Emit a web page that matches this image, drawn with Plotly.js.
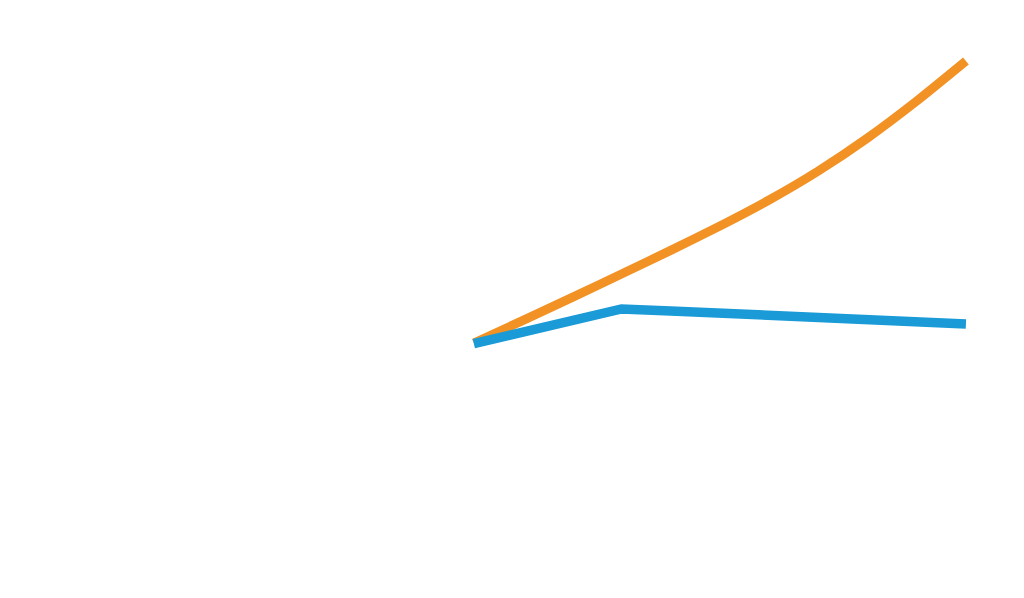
<!DOCTYPE html>
<html>
<head>
<meta charset="utf-8">
<script src="https://cdn.plot.ly/plotly-3.0.1.min.js"></script>
<style>
  html, body { margin: 0; padding: 0; background: #ffffff; }
  #chart { width: 1024px; height: 598px; }
</style>
</head>
<body>
<div id="chart"></div>
<script>
const years = [2010, 2011, 2012, 2013, 2014, 2015, 2016, 2017, 2018, 2019, 2020];
const orangeValues = [100, 111.3, 122.8, 134.5, 146.3, 158.5, 171.5, 186, 202.5, 221, 241];
const blueValues = [99.7, 105.5, 111, 117, 116, 114.9, 113.8, 112.7, 111.6, 110.6, 109.5];

const traces = [
  {
    x: years, y: orangeValues, type: 'scatter', mode: 'lines',
    line: { color: '#F29224', width: 9, shape: 'spline', smoothing: 0.6 },
    hoverinfo: 'skip', showlegend: false
  },
  {
    x: years, y: blueValues, type: 'scatter', mode: 'lines',
    line: { color: '#1A9AD6', width: 9.5 },
    hoverinfo: 'skip', showlegend: false
  }
];

const layout = {
  width: 1024, height: 598,
  margin: { l: 0, r: 0, t: 0, b: 0, pad: 0 },
  paper_bgcolor: '#ffffff', plot_bgcolor: '#ffffff',
  xaxis: { range: [2000.37, 2021.18], visible: false, fixedrange: true },
  yaxis: { range: [-27.5, 271.5], visible: false, fixedrange: true },
  showlegend: false
};

Plotly.newPlot('chart', traces, layout, { displayModeBar: false, staticPlot: true });
</script>
</body>
</html>
